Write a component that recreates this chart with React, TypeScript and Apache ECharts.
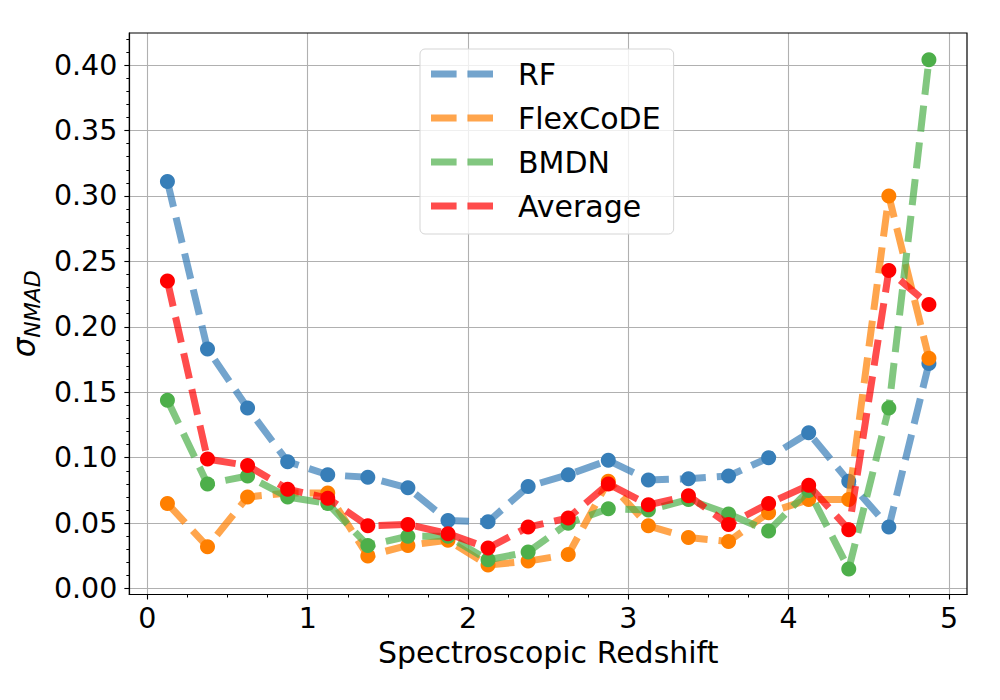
import React, { useEffect, useRef } from "react";
import * as echarts from "echarts";

const redshift = [0.125, 0.375, 0.625, 0.875, 1.125, 1.375, 1.625, 1.875, 2.125, 2.375, 2.625, 2.875, 3.125, 3.375, 3.625, 3.875, 4.125, 4.375, 4.625, 4.875];
const rfValues = [0.311, 0.183, 0.138, 0.097, 0.087, 0.085, 0.077, 0.052, 0.051, 0.078, 0.087, 0.098, 0.083, 0.084, 0.086, 0.100, 0.119, 0.082, 0.047, 0.172];
const flexValues = [0.065, 0.032, 0.070, 0.073, 0.073, 0.025, 0.033, 0.037, 0.018, 0.021, 0.026, 0.082, 0.048, 0.039, 0.036, 0.058, 0.068, 0.068, 0.300, 0.176];
const bmdnValues = [0.144, 0.080, 0.086, 0.070, 0.065, 0.033, 0.040, 0.040, 0.022, 0.028, 0.050, 0.061, 0.060, 0.068, 0.057, 0.044, 0.075, 0.015, 0.138, 0.404];
const avgValues = [0.235, 0.099, 0.094, 0.076, 0.069, 0.048, 0.049, 0.042, 0.031, 0.047, 0.054, 0.080, 0.064, 0.071, 0.049, 0.065, 0.079, 0.045, 0.243, 0.217];

const xTickValues = [0, 1, 2, 3, 4, 5];
const yTickValues = [0, 0.05, 0.1, 0.15, 0.2, 0.25, 0.3, 0.35, 0.4];

const seriesNames = ["RF", "FlexCoDE", "BMDN", "Average"];
const seriesColors = ["#377eb8", "#ff7f00", "#4daf4a", "#ff0000"];
const seriesValues = [rfValues, flexValues, bmdnValues, avgValues];

const FONT = "DejaVu Sans";

export default function App() {
  const ref = useRef<HTMLDivElement>(null);
  useEffect(() => {
    if (!ref.current) return;
    const chart = echarts.init(ref.current, undefined, { renderer: "svg" });
    const series = seriesNames.map((name, i) => ({
      name,
      type: "line",
      data: redshift.map((x, j) => [x, seriesValues[i][j]]),
      symbol: "circle",
      symbolSize: 15,
      itemStyle: { color: seriesColors[i], borderWidth: 0 },
      lineStyle: { color: seriesColors[i], width: 7, type: [26, 11], opacity: 0.7, cap: "butt" },
      emphasis: { disabled: true },
      z: 2 + i,
    }));
    chart.setOption({
      animation: false,
      backgroundColor: "#ffffff",
      textStyle: { fontFamily: FONT },
      grid: {
        left: 126,
        right: 33,
        top: 33,
        bottom: 105.5,
        show: true,
        borderColor: "#000",
        borderWidth: 1.2,
        backgroundColor: "transparent",
        z: 10,
      },
      legend: {
        orient: "vertical",
        left: 420,
        top: 49,
        align: "left",
        itemWidth: 62,
        itemHeight: 7,
        itemGap: 14,
        padding: [10, 13, 13, 11],
        backgroundColor: "rgba(255,255,255,0.8)",
        borderColor: "#d5d5d5",
        borderWidth: 1,
        borderRadius: 5,
        icon: "path://M0,0h26v7h-26zM37,0h26v7h-26z",
        itemStyle: { opacity: 0.7, borderWidth: 0 },
        textStyle: { fontFamily: FONT, fontSize: 30, color: "#000", lineHeight: 30, padding: [0, 0, 0, 20] },
        data: seriesNames,
        selectedMode: false,
        z: 20,
      },
      xAxis: {
        type: "value",
        min: -0.1125,
        max: 5.1125,
        splitNumber: 5,
        name: "Spectroscopic Redshift",
        nameLocation: "middle",
        nameGap: 39,
        nameTextStyle: { fontFamily: FONT, fontSize: 30, color: "#000" },
        axisLine: { show: true, onZero: false, lineStyle: { color: "#000", width: 1.2 } },
        axisTick: { show: true, length: 5, customValues: xTickValues, lineStyle: { color: "#000", width: 1.1 } },
        minorTick: { show: true, splitNumber: 4, length: 3, lineStyle: { color: "#000", width: 1 } },
        splitLine: { show: true, lineStyle: { color: "#b0b0b0", width: 1.1 } },
        axisLabel: {
          fontFamily: FONT,
          fontSize: 28.5,
          color: "#000",
          margin: 9,
          customValues: xTickValues,
          formatter: (v: number) => (Math.abs(v - Math.round(v)) < 1e-6 ? String(Math.round(v)) : ""),
        },
      },
      yAxis: {
        type: "value",
        min: -0.0045,
        max: 0.4245,
        splitNumber: 9,
        name: "{s|σ}{b|NMAD}",
        nameLocation: "middle",
        nameRotate: 90,
        nameGap: 84,
        nameTextStyle: {
          fontFamily: FONT,
          color: "#000",
          rich: {
            s: { fontFamily: FONT, fontSize: 31, fontStyle: "italic", color: "#000" },
            b: { fontFamily: FONT, fontSize: 22, fontStyle: "italic", color: "#000", padding: [17, 0, 0, 0] },
          },
        },
        axisLine: { show: true, onZero: false, lineStyle: { color: "#000", width: 1.2 } },
        axisTick: { show: true, length: 5, customValues: yTickValues, lineStyle: { color: "#000", width: 1.1 } },
        minorTick: { show: true, splitNumber: 5, length: 3, lineStyle: { color: "#000", width: 1 } },
        splitLine: { show: true, lineStyle: { color: "#b0b0b0", width: 1.1 } },
        axisLabel: {
          fontFamily: FONT,
          fontSize: 28.5,
          color: "#000",
          margin: 12,
          customValues: yTickValues,
          formatter: (v: number) => {
            const k = Math.round(v / 0.05);
            return Math.abs(v - k * 0.05) < 1e-6 ? (k * 0.05).toFixed(2) : "";
          },
        },
      },
      series,
    });
    return () => chart.dispose();
  }, []);
  return (
    <div
      ref={ref}
      style={{ position: "fixed", left: 0, top: 0, width: 1000, height: 700, background: "#fff" }}
    />
  );
}
